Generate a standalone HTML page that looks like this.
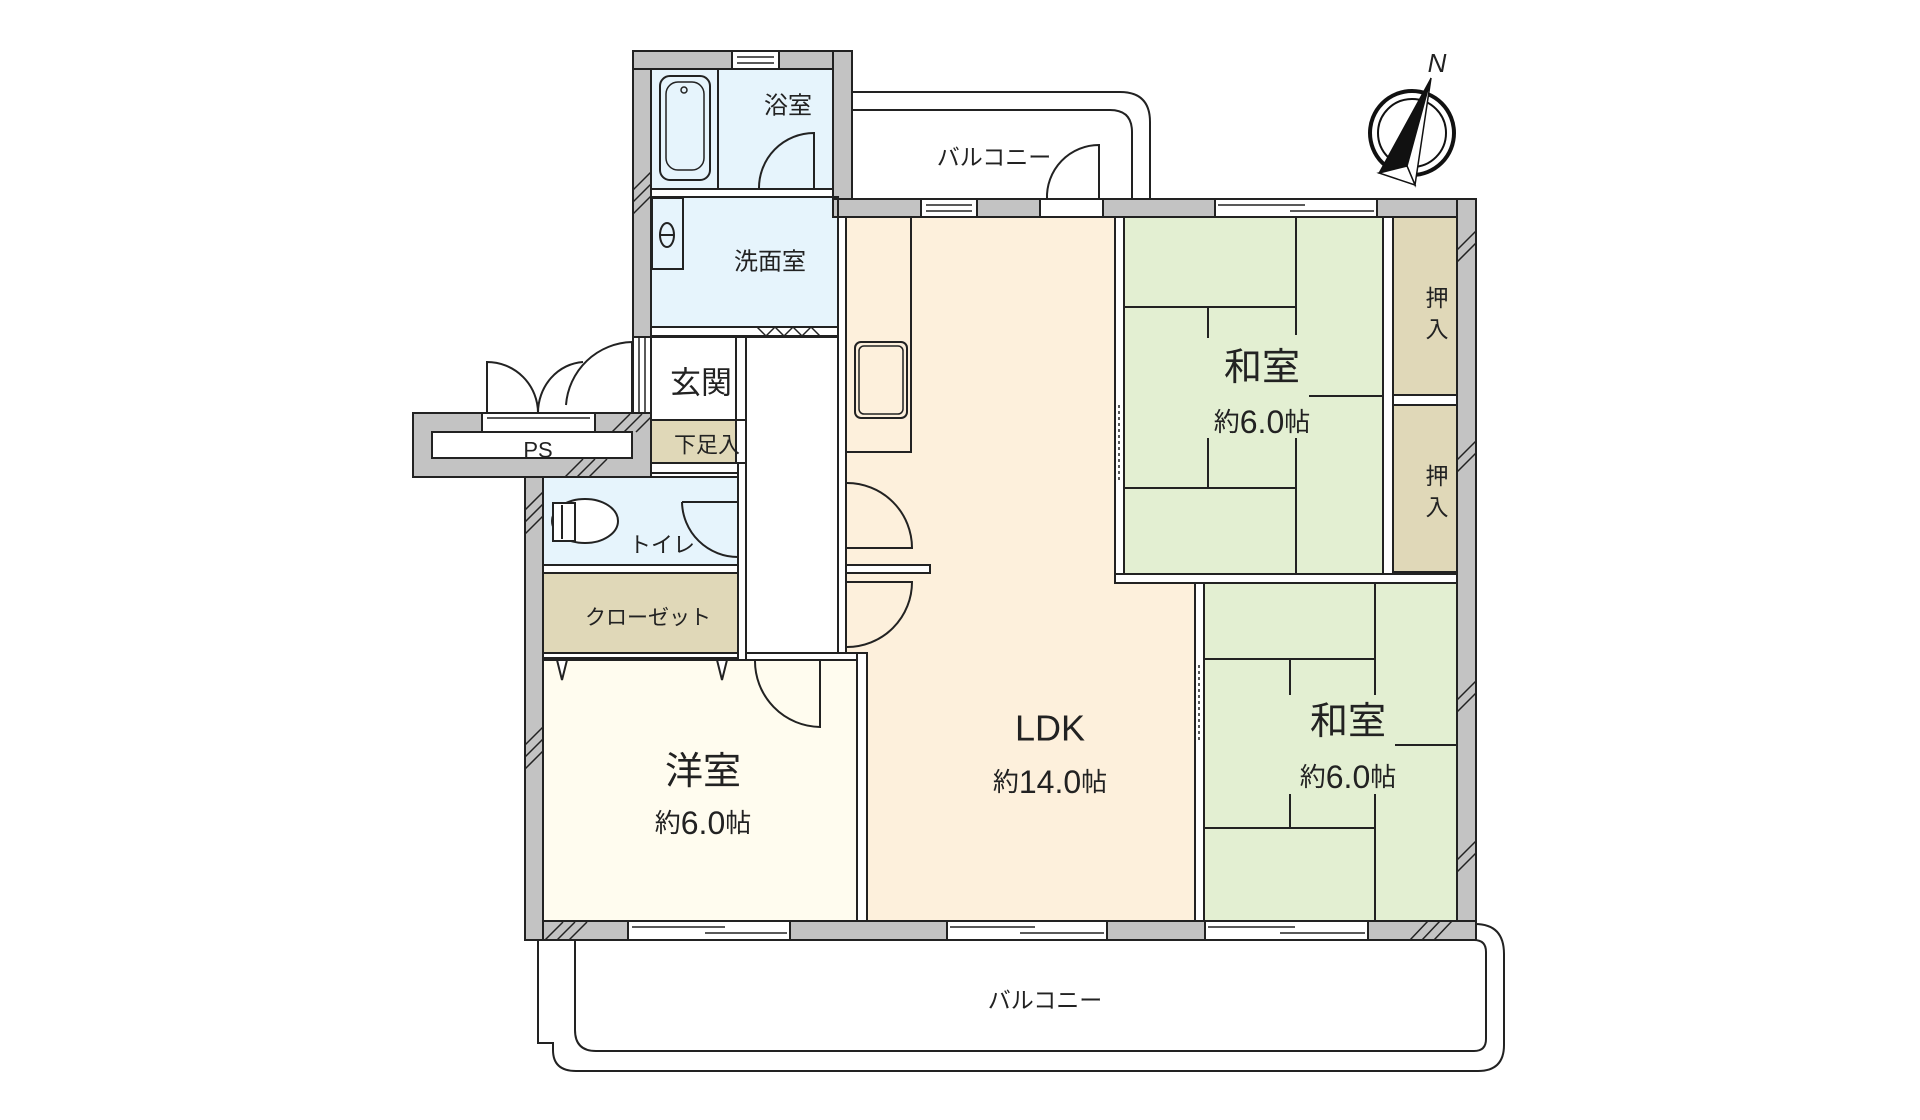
<!DOCTYPE html>
<html><head><meta charset="utf-8"><style>
html,body{margin:0;padding:0;background:#fff;}
svg{display:block;}
text{font-family:"Liberation Sans","Noto Sans CJK JP",sans-serif;fill:#222;}
</style></head><body>
<svg width="1920" height="1120" viewBox="0 0 1920 1120" xmlns="http://www.w3.org/2000/svg">
<g stroke="#222" stroke-width="2">
<path d="M852,92 H1120 Q1150,92 1150,122 V200" fill="none"/>
<path d="M852,110 H1110 Q1132,110 1132,132 V200" fill="none"/>
<path d="M1475,924 Q1504,924 1504,954 V1045 Q1504,1071 1478,1071 H576 Q553,1071 553,1050 V1043 H538 V940" fill="none"/>
<path d="M575,940 V1030 Q575,1051 596,1051 H1474 Q1486,1051 1486,1039 V952 Q1486,940 1474,940" fill="none"/>

<rect x="651" y="69" width="182" height="124" fill="#e6f4fc"/>
<rect x="651" y="197" width="187" height="130" fill="#e6f4fc"/>
<rect x="846" y="217" width="349" height="704" fill="#fdf0dc"/>
<rect x="1124" y="217" width="259" height="357" fill="#e3efd2"/>
<rect x="1204" y="583" width="253" height="338" fill="#e3efd2"/>
<rect x="1393" y="217" width="64" height="178" fill="#e0d8b8"/>
<rect x="1393" y="405" width="64" height="167" fill="#e0d8b8"/>
<rect x="651" y="337" width="85" height="83" fill="#fff"/>
<rect x="651" y="420" width="95" height="43" fill="#e0d8b8"/>
<rect x="543" y="477" width="195" height="88" fill="#e6f4fc"/>
<rect x="543" y="573" width="195" height="85" fill="#e0d8b8"/>
<rect x="543" y="660" width="314" height="261" fill="#fffcef"/>
<rect x="746" y="337" width="92" height="316" fill="#fff"/>

<g fill="#fff">
<rect x="651" y="189" width="182" height="8"/>
<rect x="651" y="327" width="187" height="9"/>
<rect x="838" y="217" width="8" height="436"/>
<rect x="1115" y="217" width="9" height="366"/>
<rect x="1115" y="574" width="342" height="9"/>
<rect x="1195" y="583" width="9" height="338"/>
<rect x="1383" y="217" width="10" height="357"/>
<rect x="1393" y="395" width="64" height="10"/>
<rect x="857" y="653" width="10" height="268"/>
<rect x="543" y="653" width="314" height="7"/>
<rect x="543" y="565" width="195" height="8"/>
<rect x="738" y="463" width="8" height="197"/>
<rect x="736" y="337" width="10" height="126"/>
<rect x="651" y="463" width="87" height="10"/>
<rect x="846" y="565" width="84" height="8"/>
</g>

<g fill="#c3c3c3">
<rect x="633" y="51" width="18" height="286"/>
<rect x="633" y="51" width="219" height="18"/>
<rect x="833" y="51" width="19" height="166"/>
<rect x="833" y="199" width="643" height="18"/>
<rect x="1457" y="199" width="19" height="741"/>
<rect x="525" y="921" width="951" height="19"/>
<rect x="525" y="477" width="18" height="463"/>
<rect x="413" y="413" width="238" height="64"/>
</g>
<g fill="#fff">
<rect x="732" y="51" width="47" height="18"/>
<rect x="921" y="199" width="56" height="18"/>
<rect x="1040" y="199" width="63" height="18"/>
<rect x="1215" y="199" width="162" height="18"/>
<rect x="628" y="921" width="162" height="19"/>
<rect x="947" y="921" width="160" height="19"/>
<rect x="1205" y="921" width="163" height="19"/>
<rect x="432" y="432" width="200" height="26"/>
<rect x="482" y="413" width="113" height="19"/>
<rect x="633" y="337" width="18" height="76"/>
</g>
<g fill="none" stroke-width="1.5">
<line x1="737" y1="57" x2="774" y2="57"/><line x1="737" y1="63" x2="774" y2="63"/>
<line x1="926" y1="205" x2="972" y2="205"/><line x1="926" y1="211" x2="972" y2="211"/>
<line x1="1218" y1="205" x2="1305" y2="205"/><line x1="1290" y1="211" x2="1374" y2="211"/>
<line x1="632" y1="927" x2="725" y2="927"/><line x1="705" y1="933" x2="787" y2="933"/>
<line x1="950" y1="927" x2="1035" y2="927"/><line x1="1020" y1="933" x2="1104" y2="933"/>
<line x1="1208" y1="927" x2="1295" y2="927"/><line x1="1280" y1="933" x2="1365" y2="933"/>
<line x1="487" y1="418" x2="590" y2="418"/>
<line x1="639" y1="337" x2="639" y2="413"/><line x1="645" y1="337" x2="645" y2="413"/>
</g>
<g stroke-width="1.5">
<path d="M633,190 L651,172 M633,202 L651,184 M633,214 L651,196"/>
<path d="M612,432 L630,414 M624,432 L642,414 M636,432 L651,417"/>
<path d="M565,477 L583,459 M577,477 L595,459 M589,477 L607,459"/>
<path d="M525,510 L543,492 M525,522 L543,504 M525,534 L543,516"/>
<path d="M525,745 L543,727 M525,757 L543,739 M525,769 L543,751"/>
<path d="M545,940 L563,922 M557,940 L575,922 M569,940 L587,922"/>
<path d="M1457,250 L1476,231 M1457,262 L1476,243"/>
<path d="M1457,460 L1476,441 M1457,472 L1476,453"/>
<path d="M1457,700 L1476,681 M1457,712 L1476,693"/>
<path d="M1457,860 L1476,841 M1457,872 L1476,853"/>
<path d="M1410,940 L1428,921 M1422,940 L1440,921 M1434,940 L1452,921"/>
</g>

<line x1="718" y1="69" x2="718" y2="189"/>
<rect x="660" y="76" width="50" height="104" rx="10" fill="none"/>
<rect x="666" y="82" width="38" height="88" rx="12" fill="none" stroke-width="1.5"/>
<circle cx="684" cy="90" r="3" fill="none" stroke-width="1.5"/>
<path d="M814,189 V133 A55,55 0 0 0 759,189" fill="none"/>
<rect x="652" y="198" width="31" height="71" fill="none"/>
<ellipse cx="667" cy="235" rx="7" ry="12" fill="none"/>
<line x1="660" y1="235" x2="674" y2="235"/>
<path d="M757,327 l9,9 l9,-9 l9,9 l9,-9 l9,9 l9,-9 l9,9" fill="none" stroke-width="1.5"/>
<rect x="846" y="217" width="65" height="235" fill="none"/>
<rect x="855" y="342" width="52" height="76" rx="6" fill="none"/>
<rect x="859" y="346" width="44" height="68" rx="5" fill="none" stroke-width="1.5"/>
<ellipse cx="585" cy="521" rx="33" ry="22" fill="#fff"/>
<rect x="553" y="503" width="22" height="38" fill="#fff"/>
<line x1="562" y1="505" x2="562" y2="539"/>
<g fill="none">
<path d="M487,413 V362 A51,51 0 0 1 538,413"/>
<path d="M538,413 A48,51 0 0 1 583,362"/>
<path d="M632,413 V342 A68,68 0 0 0 566,405"/>
<path d="M682,502 H738 V557 A56,56 0 0 1 682,502"/>
<path d="M847,483 A65,65 0 0 1 912,548 H847"/>
<path d="M847,582 H912 A65,65 0 0 1 847,647"/>
<path d="M820,660 V727 A66,66 0 0 1 755,660"/>
<path d="M1099,199 V145 A52,52 0 0 0 1047,199"/>
<path d="M557,660 l5,20 l5,-20 M717,660 l5,20 l5,-20" fill="#fff"/>
</g>
<g fill="none" stroke-width="1.5" stroke-dasharray="3,3">
<line x1="1119" y1="405" x2="1119" y2="480"/>
<line x1="1199" y1="665" x2="1199" y2="740"/>
</g>
<g stroke-width="2" fill="none">
<path d="M1296,217 V335 M1296,438 V574 M1124,307 H1296 M1124,488 H1296 M1208,307 V338 M1208,438 V488 M1309,396 H1383"/>
<path d="M1204,659 H1375 M1375,583 V695 M1375,794 V921 M1204,828 H1375 M1290,659 V695 M1290,794 V828 M1395,745 H1457"/>
</g>
<g fill="none">
<rect x="1124" y="217" width="259" height="357"/>
<rect x="1204" y="583" width="253" height="338"/>
<rect x="1393" y="217" width="64" height="178"/>
<rect x="1393" y="405" width="64" height="167"/>
<rect x="543" y="660" width="314" height="261"/>
<rect x="543" y="573" width="195" height="85"/>
<rect x="543" y="477" width="195" height="88"/>
<rect x="651" y="69" width="182" height="120"/>
<rect x="651" y="197" width="187" height="130"/>
<rect x="651" y="420" width="95" height="43"/>
<path d="M846,217 V653 H867 V921"/>
<rect x="432" y="432" width="200" height="26"/>
</g>
</g>
<g stroke="#111">
<ellipse cx="1412" cy="133" rx="42" ry="42" fill="none" stroke-width="4"/>
<ellipse cx="1412" cy="133" rx="34" ry="34" fill="none" stroke-width="2"/>
<path d="M1431,78 L1407,166 L1379,173 Z" fill="#111" stroke-width="1"/>
<path d="M1431,78 L1415,185 L1407,166 Z" fill="#fff" stroke-width="1.5"/>
<path d="M1379,173 L1407,166 L1415,185 Z" fill="#fff" stroke-width="1.5"/>
</g>
<text x="1437" y="72" font-family="Liberation Serif" font-style="italic" font-size="26" text-anchor="middle">N</text>
<g text-anchor="middle" dominant-baseline="central">
<text x="788" y="106" font-size="24">浴室</text>
<text x="770" y="262" font-size="24">洗面室</text>
<text x="701" y="383" font-size="31">玄関</text>
<text x="707" y="445" font-size="22">下足入</text>
<text x="538" y="450" font-size="22">PS</text>
<text x="662" y="545" font-size="22">トイレ</text>
<text x="648" y="618" font-size="21">クローゼット</text>
<text x="703" y="772" font-size="38">洋室</text>
<text x="703" y="823" font-size="26">約<tspan font-size="32">6.0</tspan>帖</text>
<text x="1050" y="728" font-size="36">LDK</text>
<text x="1050" y="782" font-size="26">約<tspan font-size="32">14.0</tspan>帖</text>
<text x="1262" y="368" font-size="38">和室</text>
<text x="1262" y="422" font-size="26">約<tspan font-size="32">6.0</tspan>帖</text>
<text x="1348" y="722" font-size="38">和室</text>
<text x="1348" y="777" font-size="26">約<tspan font-size="32">6.0</tspan>帖</text>
<text x="1437" y="298" font-size="23">押</text>
<text x="1437" y="329" font-size="23">入</text>
<text x="1437" y="476" font-size="23">押</text>
<text x="1437" y="507" font-size="23">入</text>
<text x="994" y="157" font-size="23">バルコニー</text>
<text x="1045" y="1000" font-size="23">バルコニー</text>
</g>
</svg>
</body></html>
